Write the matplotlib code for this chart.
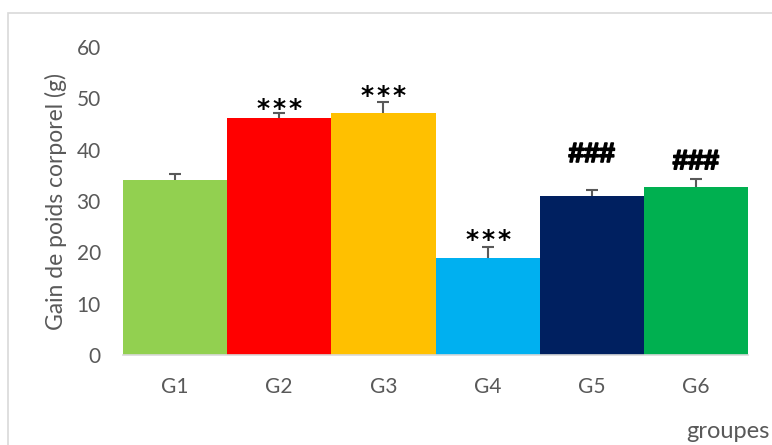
import matplotlib
matplotlib.use("Agg")
import matplotlib.pyplot as plt
import matplotlib.patheffects as pe
from matplotlib.patches import Rectangle

plt.rcParams['font.family'] = ['Lato', 'DejaVu Sans']

groupes = ['G1', 'G2', 'G3', 'G4', 'G5', 'G6']
gain = [34.1, 46.2, 47.1, 18.9, 31.0, 32.7]
erreur = [1.1, 0.9, 2.1, 2.2, 1.1, 1.6]
signif = ['', '***', '***', '***', '###', '###']
# hauteur (centre) des signes
hauteur_signe = [0, 49.3, 51.7, 23.8, 39.4, 38.0]
couleurs = ['#92D050', '#FF0000', '#FFC000', '#00B0F0', '#002060', '#00B050']

gris = '#595959'

fig = plt.figure(figsize=(7.72, 4.45), dpi=100)
ax = fig.add_axes([123/772, 1 - 355/445, 625/772, 308/445])

x = list(range(len(groupes)))
ax.bar(x, gain, width=1.0, color=couleurs, zorder=2)

# barres d'erreur vers le haut seulement
haut = [g + e for g, e in zip(gain, erreur)]
ax.vlines(x, gain, haut, color=gris, linewidth=1.5, zorder=3)
ax.hlines(haut, [i - 0.058 for i in x], [i + 0.058 for i in x],
          color=gris, linewidth=1.5, zorder=3)

for i in x:
    if signif[i] == '***':
        # trois etoiles espacees
        for dx in (-16, 0, 16):
            ax.annotate('*', (i, hauteur_signe[i] - 2.7), xytext=(dx, 0),
                        textcoords='offset pixels', ha='center', va='baseline',
                        fontsize=18, fontweight='bold', color='black',
                        family=['DejaVu Sans'])
    elif signif[i] == '###':
        ax.text(i, hauteur_signe[i] - 1.8, signif[i], ha='center', va='baseline',
                fontsize=20, fontweight='bold', color='black',
                family=['Liberation Sans Narrow', 'Liberation Sans'],
                path_effects=[pe.withStroke(linewidth=1.2, foreground='black')])

ax.set_xlim(-0.5, 5.5)
ax.set_ylim(0, 60)
ax.set_yticks(range(0, 61, 10))
ax.set_xticks(x)
ax.set_xticklabels(groupes)
ax.tick_params(axis='both', length=0, colors=gris, labelsize=15)
ax.tick_params(axis='x', pad=16)
ax.tick_params(axis='y', pad=16)

for s in ['top', 'right', 'left']:
    ax.spines[s].set_visible(False)
ax.spines['bottom'].set_color('#D9D9D9')
ax.spines['bottom'].set_linewidth(1.2)

fig.text(56/772, 1 - 201/445, 'Gain de poids corporel (g)', rotation=90,
         fontsize=16.5, color=gris, ha='center', va='center')
fig.text(686/772, 1 - 432/445, 'groupes', fontsize=17, color=gris,
         ha='left', va='center')

# cadre du graphique (coupe a droite et en bas)
fig.patches.append(Rectangle((8/772, -0.2), 1.2, 1 - 13/445 + 0.2,
                             transform=fig.transFigure, fill=False,
                             edgecolor='#D9D9D9', linewidth=1.2, clip_on=False))

fig.savefig('out.png', dpi=100)
